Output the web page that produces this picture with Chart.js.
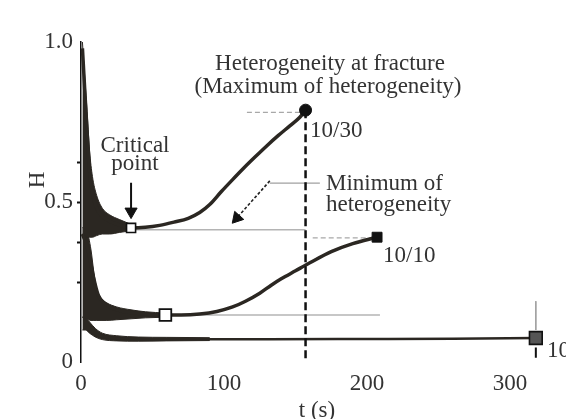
<!DOCTYPE html>
<html>
<head>
<meta charset="utf-8">
<script src="https://cdn.jsdelivr.net/npm/chart.js@4"></script>
<style>
  html, body { margin: 0; padding: 0; background: #fff; }
</style>
</head>
<body>
<canvas id="chart" width="566" height="419"></canvas>
<script>
// curve 10/30 (top)
const tA = [1, 2, 4, 6, 8, 11, 15, 20, 27, 35, 45, 55, 65, 75, 83, 90, 98, 106, 114, 122, 130, 138, 146, 153, 157];
const hA = [0.98, 0.9, 0.74, 0.6, 0.53, 0.48, 0.455, 0.44, 0.428, 0.419, 0.421, 0.427, 0.437, 0.449, 0.467, 0.492, 0.532, 0.57, 0.607, 0.642, 0.676, 0.708, 0.738, 0.765, 0.787];
// curve 10/10 (middle)
const tB = [1, 5, 9, 12, 16, 22, 30, 40, 50, 59, 70, 83, 95, 106, 115, 125, 133, 140, 150, 160, 175, 190, 207];
const hB = [0.4, 0.35, 0.26, 0.21, 0.185, 0.168, 0.158, 0.152, 0.148, 0.147, 0.147, 0.15, 0.158, 0.172, 0.19, 0.215, 0.24, 0.26, 0.285, 0.31, 0.345, 0.37, 0.39];
// curve 10/3 (bottom)
const tC = [10, 20, 40, 80, 130, 200, 260, 318];
const hC = [0.085, 0.076, 0.072, 0.071, 0.071, 0.072, 0.073, 0.075];

// noisy start of each curve: upper / lower edge of the dark band
const bandAT = [1, 2, 4, 6, 8, 11, 15, 20, 27, 35];
const bandAHi = [1.0, 0.93, 0.8, 0.66, 0.58, 0.52, 0.48, 0.46, 0.445, 0.43];
const bandALo = [0.4, 0.4, 0.39, 0.39, 0.39, 0.395, 0.4, 0.4, 0.405, 0.41];
const bandBT = [1, 4, 7, 9, 11, 14, 18, 25, 35, 45, 59];
const bandBHi = [0.42, 0.41, 0.35, 0.28, 0.23, 0.2, 0.185, 0.172, 0.163, 0.157, 0.153];
const bandBLo = [0.14, 0.135, 0.13, 0.13, 0.13, 0.13, 0.13, 0.132, 0.135, 0.138, 0.14];
const bandCT = [1, 3, 6, 10, 15, 25, 40, 60, 90];
const bandCHi = [0.14, 0.14, 0.125, 0.105, 0.09, 0.082, 0.078, 0.077, 0.076];
const bandCLo = [0.1, 0.1, 0.09, 0.078, 0.07, 0.066, 0.065, 0.066, 0.067];

// marked points: critical 10/30, fracture 10/30, minimum 10/10, end 10/10, end 10/3
const markT = [35, 157, 59, 207, 318];
const markH = [0.419, 0.787, 0.147, 0.39, 0.075];

// guide lines
const minRefAT = [35, 157], minRefAH = [0.413, 0.413];
const minRefBT = [59, 209], minRefBH = [0.147, 0.147];
const maxRefAT = [116, 157], maxRefAH = [0.78, 0.78];
const maxRefBT = [162, 203], maxRefBH = [0.388, 0.388];
const fracT = [157, 157], fracH = [0.787, 0];
const endCGuideT = [318, 318], endCGuideH = [0.19, 0.1];
const endCTickT = [318, 318], endCTickH = [0.045, 0.013];
const critArrowT = [35, 35], critArrowH = [0.56, 0.47];
const minArrowT = [132, 109], minArrowH = [0.566, 0.45];
const minLinkT = [132, 167], minLinkH = [0.559, 0.559];

const xTicks = [0, 100, 200, 300];
const yLabels = { 0: '0', 0.5: '0.5', 1: '1.0' };
const yMinorMarks = [0.25, 0.375, 0.5, 0.625];

const ink = '#2b2722';
const serif = 'Liberation Serif';
const pts = (ts, hs) => ts.map((t, i) => ({ x: t, y: hs[i] }));

function band(ts, hi, lo) {
  return [
    { data: pts(ts, hi), borderWidth: 1, borderColor: ink, backgroundColor: ink, fill: '+1', order: 8, cubicInterpolationMode: 'monotone' },
    { data: pts(ts, lo), borderWidth: 1, borderColor: ink, fill: false, order: 8, cubicInterpolationMode: 'monotone' }
  ];
}
function guide(ts, hs, color, width, dash, order) {
  return { data: pts(ts, hs), borderColor: color, borderWidth: width, borderDash: dash || [], fill: false, order: order || 6, tension: 0 };
}

const datasets = [
  ...band(bandAT, bandAHi, bandALo),
  ...band(bandBT, bandBHi, bandBLo),
  ...band(bandCT, bandCHi, bandCLo),
  guide(minRefAT, minRefAH, '#b4b4b4', 1.5),
  guide(minRefBT, minRefBH, '#b4b4b4', 1.5),
  guide(maxRefAT, maxRefAH, '#a8a8a8', 1.2, [5, 3]),
  guide(maxRefBT, maxRefBH, '#a8a8a8', 1.2, [5, 3]),
  guide(endCGuideT, endCGuideH, '#a0a0a0', 1),
  guide(endCTickT, endCTickH, '#111', 2),
  { data: pts(tA, hA), borderColor: ink, borderWidth: 3.5, fill: false, order: 4, cubicInterpolationMode: 'monotone' },
  { data: pts(tB, hB), borderColor: ink, borderWidth: 3.5, fill: false, order: 4, cubicInterpolationMode: 'monotone' },
  { data: pts(tC, hC), borderColor: ink, borderWidth: 2.5, fill: false, order: 4, cubicInterpolationMode: 'monotone' },
  guide(fracT, fracH, '#111', 2.5, [8, 4], 2),
  guide(minLinkT, minLinkH, '#a0a0a0', 1.2, [], 2),
  {
    data: pts(critArrowT, critArrowH), borderColor: '#111', borderWidth: 2, fill: false, order: 1, tension: 0,
    pointStyle: 'triangle', pointRadius: [0, 7], pointRotation: [0, 180],
    pointBackgroundColor: '#111', pointBorderColor: '#111', pointBorderWidth: 1
  },
  {
    data: pts(minArrowT, minArrowH), borderColor: '#222', borderWidth: 1.6, borderDash: [3, 2], fill: false, order: 1, tension: 0,
    pointStyle: 'triangle', pointRadius: [0, 7], pointRotation: [0, 221.5],
    pointBackgroundColor: '#111', pointBorderColor: '#111', pointBorderWidth: 1
  },
  {
    data: pts(markT, markH), showLine: false, order: 0,
    pointStyle: ['rect', 'circle', 'rect', 'rect', 'rect'],
    pointRadius: [6.4, 6, 8.3, 7, 9],
    pointBackgroundColor: ['#fff', '#111', '#fff', '#111', '#555'],
    pointBorderColor: '#111',
    pointBorderWidth: [1.6, 1, 1.8, 1, 1.6]
  }
];

const notes = {
  id: 'notes',
  afterDraw(chart) {
    const ctx = chart.ctx;
    ctx.save();
    ctx.fillStyle = '#333';
    ctx.font = `23px "${serif}"`;
    ctx.textBaseline = 'alphabetic';
    ctx.textAlign = 'center';
    ctx.fillText('Heterogeneity at fracture', 330, 70);
    ctx.fillText('(Maximum of heterogeneity)', 328, 93);
    ctx.fillText('Critical', 135, 152);
    ctx.fillText('point', 135, 170);
    ctx.textAlign = 'left';
    ctx.fillText('10/30', 310, 137);
    ctx.fillText('Minimum of', 326, 190);
    ctx.fillText('heterogeneity', 326, 211);
    ctx.fillText('10/10', 383, 262);
    ctx.fillText('10', 547, 357);
    ctx.translate(38, 180);
    ctx.rotate(-Math.PI / 2);
    ctx.textAlign = 'center';
    ctx.textBaseline = 'middle';
    ctx.fillText('H', 0, 0);
    ctx.restore();
  }
};

new Chart(document.getElementById('chart'), {
  type: 'line',
  data: { datasets },
  options: {
    responsive: false,
    animation: false,
    devicePixelRatio: 1,
    layout: { padding: { top: 42, right: 13, left: 0, bottom: 0 } },
    plugins: { legend: { display: false }, tooltip: { enabled: false } },
    elements: { point: { radius: 0 } },
    scales: {
      x: {
        type: 'linear', min: 0, max: 330,
        afterFit: s => { s.height = 57; },
        afterBuildTicks: s => { s.ticks = xTicks.map(v => ({ value: v })); },
        grid: { display: false, drawTicks: false },
        border: { display: false },
        ticks: { padding: 8, color: '#333', font: { family: serif, size: 23 }, maxRotation: 0, autoSkip: false },
        title: { display: true, text: 't (s)', color: '#333', font: { family: serif, size: 23, lineHeight: 1 }, padding: { top: 0, bottom: -3 } }
      },
      y: {
        type: 'linear', min: 0, max: 1,
        afterFit: s => { s.width = 81; },
        grid: {
          drawOnChartArea: false, tickLength: 4, tickWidth: 2,
          tickColor: c => yMinorMarks.includes(c.tick.value) ? '#111' : 'rgba(0,0,0,0)'
        },
        border: { color: '#111', width: 1.5 },
        ticks: {
          stepSize: 0.125, padding: 4, color: '#333', font: { family: serif, size: 23 },
          callback: v => yLabels[v] ?? ''
        }
      }
    }
  },
  plugins: [notes]
});
</script>
</body>
</html>
